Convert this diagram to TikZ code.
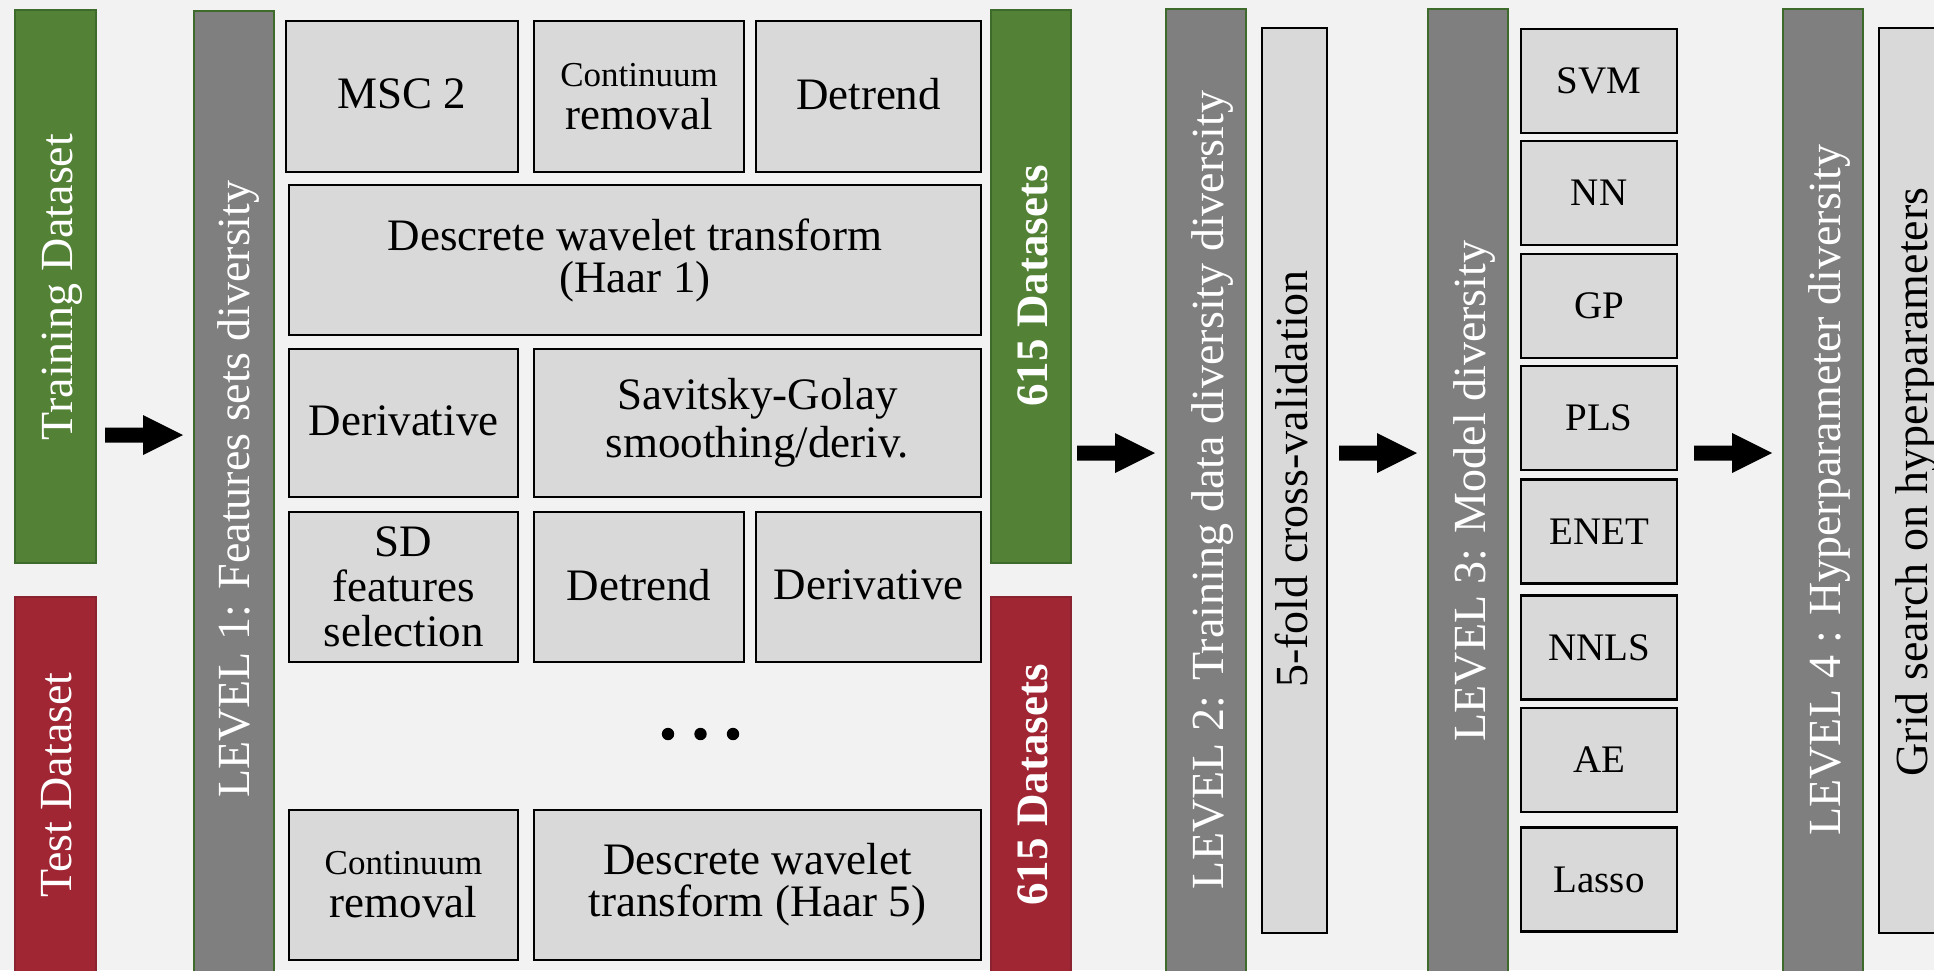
\documentclass[tikz,border=0pt]{standalone}
\usepackage{fontspec}
\setmainfont{Liberation Serif}
\usetikzlibrary{calc}
\definecolor{bg}{HTML}{F2F2F2}
\definecolor{dgreen}{HTML}{538135}
\definecolor{dgreenb}{HTML}{3E6B2C}
\definecolor{dred}{HTML}{A02634}
\definecolor{dredb}{HTML}{8A2230}
\definecolor{midgray}{HTML}{7F7F7F}
\definecolor{boxgray}{HTML}{D9D9D9}
\tikzset{
  greenbar/.style={draw=dgreenb, line width=1.5, fill=dgreen, inner sep=0},
  redbar/.style={draw=dredb, line width=1.5, fill=dred, inner sep=0},
  levelbar/.style={draw=dgreenb, line width=1.5, fill=midgray, inner sep=0},
  box/.style={draw=black, line width=2.7, fill=boxgray, inner sep=0, align=center,
    font=\fontsize{45}{40}\selectfont},
  oneline/.style={text depth=5pt},
  modelbox/.style={box, minimum width=156, minimum height=104, font=\fontsize{39}{39}\selectfont},
  vtext/.style={rotate=90, anchor=base, inner sep=0, text=white, font=\fontsize{46}{46}\selectfont},
  vbold/.style={vtext, font=\fontsize{45}{45}\selectfont\bfseries},
  vblack/.style={vtext, text=black},
}
\newcommand\blockarrow[2]{%
  \fill[black] ($(#1)+(0,-7.5)$) -- ($(#2)+(-40,-7.5)$) -- ($(#2)+(-40,-20)$) -- (#2)
    -- ($(#2)+(-40,20)$) -- ($(#2)+(-40,7.5)$) -- ($(#1)+(0,7.5)$) -- cycle;}
\begin{document}
\begin{tikzpicture}[x=1pt,y=-1pt]
\useasboundingbox (0,0) rectangle (1934,970);
\fill[bg] (0,0) rectangle (1934,970);
\clip (0,0) rectangle (1934,970);

% dataset bars
\node[greenbar, minimum width=81, minimum height=553] (train) at (55.5,286.5) {};
\node[redbar, minimum width=81, minimum height=378] (test) at (55.5,786) {};
\node[vtext] (traintxt) at (72,287) {Training Dataset};
\node[vtext] (testtxt) at (71,785) {Test Dataset};

% level 1
\node[levelbar, minimum width=80, minimum height=964] (lev1) at (234,493) {};
\node[vtext] (lev1txt) at (249,489) {LEVEL 1: Features sets diversity};

% feature boxes
\node[box, oneline, minimum width=232, minimum height=151] (msc) at (402,96.5) {MSC 2};
\node[box, minimum width=210, minimum height=151] (cont1) at (639,96.5)
  {{\fontsize{35}{35}\selectfont Continuum}\\[3pt]removal};
\node[box, oneline, minimum width=225, minimum height=151] (detr1) at (868.5,96.5) {Detrend};
\node[box, minimum width=692, minimum height=150] (dwt1) at (635,260)
  {Descrete wavelet transform\\[2pt](Haar 1)};
\node[box, oneline, minimum width=229, minimum height=148] (der1) at (403.5,423) {Derivative};
\node[box, minimum width=447, minimum height=148] (sg) at (757.5,423)
  {Savitsky-Golay\\[6pt]smoothing/deriv.};
\node[box, minimum width=229, minimum height=150] (sd) at (403.5,587)
  {SD\\[5pt]features\\[5pt]selection};
\node[box, oneline, minimum width=210, minimum height=150] (detr2) at (639,587) {Detrend};
\node[box, oneline, minimum width=225, minimum height=150] (der2) at (868.5,587) {Derivative};
\node[box, minimum width=229, minimum height=150] (cont2) at (403.5,885)
  {{\fontsize{35}{35}\selectfont Continuum}\\[3pt]removal};
\node[box, minimum width=447, minimum height=150] (dwt5) at (757.5,885)
  {Descrete wavelet\\[2pt]transform (Haar 5)};
\fill (668,734) circle (6.2) (700.5,734) circle (6.2) (733,734) circle (6.2);

% 615 datasets bars
\node[greenbar, minimum width=80, minimum height=553] (g615) at (1031,286.5) {};
\node[redbar, minimum width=80, minimum height=378] (r615) at (1031,786) {};
\node[vbold] (g615txt) at (1047,286) {615 Datasets};
\node[vbold] (r615txt) at (1047,785) {615 Datasets};

% level 2
\node[levelbar, minimum width=80, minimum height=966] (lev2) at (1206,492) {};
\node[vtext] (lev2txt) at (1223,490) {LEVEL 2: Training data diversity diversity};
\node[box, minimum width=65, minimum height=905] (cv) at (1294.5,480.5) {};
\node[vblack] (cvtxt) at (1307,479) {5-fold cross-validation};

% level 3
\node[levelbar, minimum width=80, minimum height=966] (lev3) at (1468,492) {};
\node[vtext] (lev3txt) at (1485,491) {LEVEL 3: Model diversity};
\node[modelbox] (svm) at (1599,81) {SVM};
\node[modelbox] (nn) at (1599,193) {NN};
\node[modelbox] (gp) at (1599,306) {GP};
\node[modelbox] (pls) at (1599,418) {PLS};
\node[modelbox] (enet) at (1599,531.5) {ENET};
\node[modelbox] (nnls) at (1599,647.5) {NNLS};
\node[modelbox] (ae) at (1599,760) {AE};
\node[modelbox] (lasso) at (1599,879.5) {Lasso};

% level 4
\node[levelbar, minimum width=80, minimum height=966] (lev4) at (1823,492) {};
\node[vtext] (lev4txt) at (1840,490) {LEVEL 4 : Hyperparameter diversity};
\node[box, minimum width=65, minimum height=905] (grid) at (1911.5,480.5) {};
\node[vblack] (gridtxt) at (1927,482) {Grid search on hyperparameters};

% arrows
\coordinate (a1s) at (105,435);  \coordinate (a1e) at (183,435);
\coordinate (a2s) at (1077,453); \coordinate (a2e) at (1155,453);
\coordinate (a3s) at (1339,453); \coordinate (a3e) at (1417,453);
\coordinate (a4s) at (1694,453); \coordinate (a4e) at (1772,453);
\blockarrow{a1s}{a1e}
\blockarrow{a2s}{a2e}
\blockarrow{a3s}{a3e}
\blockarrow{a4s}{a4e}
\end{tikzpicture}
\end{document}
